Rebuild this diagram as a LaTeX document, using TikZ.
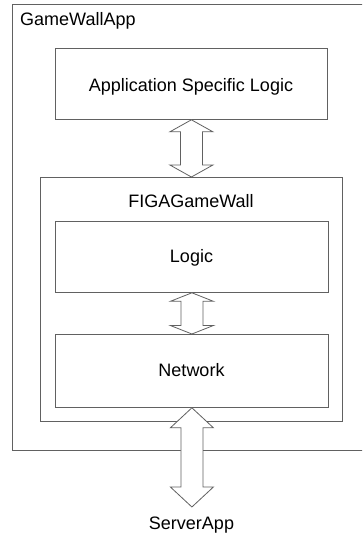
\documentclass[tikz,border=0pt]{standalone}
\usepackage{fontspec}
\setmainfont{Liberation Sans}
\usetikzlibrary{calc}
\definecolor{linegray}{gray}{0.38}
\tikzset{
  box/.style={draw=linegray, line width=0.8pt, fill=white, inner sep=0pt,
    anchor=north west},
  lbl/.style={font=\fontsize{18}{21}\selectfont, inner sep=0pt, anchor=base},
  blockarrow/.style={draw=linegray, line width=0.8pt, fill=white, line join=miter},
}
% double-headed block arrow from #1 down to #2, head length #3
\newcommand\blockarrow[3]{%
  \draw[blockarrow] let \p1=(#1), \p2=(#2) in
    (\x1,\y1) -- (\x1+21.5pt,\y1-#3) -- (\x1+11pt,\y1-#3) --
    (\x1+11pt,\y2+#3) -- (\x1+21.5pt,\y2+#3) -- (\x1,\y2) --
    (\x1-21.5pt,\y2+#3) -- (\x1-11pt,\y2+#3) --
    (\x1-11pt,\y1-#3) -- (\x1-21.5pt,\y1-#3) -- cycle;}
\begin{document}
\begin{tikzpicture}[x=1pt,y=-1pt]
  \useasboundingbox (0,0) rectangle (362,533);
  \clip (0,0) rectangle (362,533);

  % outer application frame (runs off the right edge)
  \node[box, minimum width=370pt, minimum height=446pt] (app) at (12,4) {};
  \node[lbl, anchor=base west] (apptitle) at (20,25) {GameWallApp};

  \node[box, minimum width=272pt, minimum height=71pt] (asl) at (55,48) {};
  \node[lbl] (asltext) at (191,91) {Application Specific Logic};

  % FIGAGameWall library
  \node[box, minimum width=302pt, minimum height=244pt] (figa) at (40,177) {};
  \node[lbl] (figatitle) at (191,207.5) {FIGAGameWall};

  \node[box, minimum width=273pt, minimum height=71pt] (logic) at (55,221) {};
  \node[lbl] (logictext) at (191.5,262.3) {Logic};

  \node[box, minimum width=273pt, minimum height=73pt] (net) at (55,334) {};
  \node[lbl] (nettext) at (191.5,376.3) {Network};

  \node[lbl] (server) at (191.5,529) {ServerApp};
  \coordinate (servertip) at (191.5,507);

  \blockarrow{asl.south}{figa.north}{12pt}
  \blockarrow{logic.south}{net.north}{8.5pt}
  \blockarrow{net.south}{servertip}{20pt}
\end{tikzpicture}
\end{document}
